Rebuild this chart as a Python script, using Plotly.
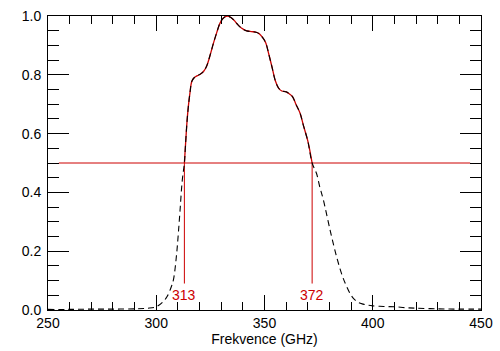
import plotly.graph_objects as go

freq = [250, 260, 270, 280, 290, 296, 300, 303, 305, 307, 308, 309.4, 310.2, 311, 312,
        313, 313.5, 314.2, 314.8, 315.6, 316.4, 317.5, 319, 320.5, 322, 323.3, 325, 326.4,
        328, 329.4, 331, 332.7, 334.5, 336, 337.5, 339.5, 341.5, 344, 346, 347.5, 349,
        350.5, 352, 353.5, 355, 356.5, 358, 360, 361.5, 363, 364.5, 366.4, 368, 370, 372,
        374, 375.5, 377.2, 380.3, 383.3, 386, 388, 390, 391.5, 393.5, 395.6, 398, 400,
        405, 410, 415, 420, 430, 440, 450]
resp = [0.002, 0.002, 0.003, 0.003, 0.004, 0.006, 0.011, 0.027, 0.046, 0.08, 0.105, 0.19,
        0.26, 0.34, 0.44,
        0.50, 0.56, 0.64, 0.69, 0.74, 0.777, 0.79, 0.797, 0.803, 0.813, 0.83, 0.87, 0.907,
        0.945, 0.975, 0.993, 1.0, 0.995, 0.985, 0.972, 0.958, 0.95, 0.947, 0.945, 0.94, 0.928,
        0.91, 0.87, 0.825, 0.78, 0.755, 0.745, 0.742, 0.735, 0.725, 0.70, 0.67, 0.627, 0.575, 0.50,
        0.465, 0.42, 0.374, 0.272, 0.181, 0.115, 0.079, 0.05, 0.036, 0.025, 0.02, 0.016, 0.014,
        0.012, 0.011, 0.008, 0.006, 0.004, 0.003, 0.003]

f_low, f_high = 313, 372
half_level = 0.5
level_x = [255, 445]
marker_bottom = 0.09
label_y = 0.05
x_title = "Frekvence (GHz)"

RED = "#cc0000"
FONT = "Liberation Sans"

band_x = [f for f in freq if f_low <= f <= f_high]
band_y = [r for f, r in zip(freq, resp) if f_low <= f <= f_high]

fig = go.Figure()
fig.add_trace(go.Scatter(x=level_x, y=[half_level, half_level], mode="lines",
                         line=dict(color=RED, width=1), hoverinfo="skip"))
for fv in (f_low, f_high):
    fig.add_trace(go.Scatter(x=[fv, fv], y=[marker_bottom, half_level], mode="lines",
                             line=dict(color=RED, width=1), hoverinfo="skip"))
fig.add_trace(go.Scatter(x=band_x, y=band_y, mode="lines", line=dict(color=RED, width=1.3, shape="spline")))
fig.add_trace(go.Scatter(x=freq, y=resp, mode="lines",
                         line=dict(color="black", width=1.1, dash="6px,4px", shape="spline")))

for fv in (f_low, f_high):
    fig.add_annotation(x=fv, y=label_y, text=str(fv), showarrow=False,
                       font=dict(color=RED, size=14, family=FONT))

axis_common = dict(showline=True, linecolor="black", linewidth=1, mirror="allticks",
                   ticks="inside", tickcolor="black", showgrid=False, zeroline=False,
                   automargin=False,
                   tickfont=dict(size=14, color="black", family=FONT))

fig.update_xaxes(range=[250, 450], tickvals=[250, 300, 350, 400, 450], ticklen=15,
                 minor=dict(dtick=10, tick0=250, ticklen=8, ticks="inside", tickcolor="black", showgrid=False),
                 title=dict(text=x_title, standoff=2, font=dict(size=14, color="black", family=FONT)),
                 **axis_common)
fig.update_yaxes(range=[0, 1.0], tickvals=[0, 0.2, 0.4, 0.6, 0.8, 1.0], tickformat=".1f", ticklen=21,
                 minor=dict(dtick=0.05, tick0=0, ticklen=11, ticks="inside", tickcolor="black", showgrid=False),
                 ticklabelstandoff=3,
                 **axis_common)

fig.update_layout(width=500, height=351, margin=dict(l=48, r=19, t=16, b=41),
                  plot_bgcolor="white", paper_bgcolor="white", showlegend=False,
                  font=dict(family=FONT, color="black"))

fig.write_html("out.html")
